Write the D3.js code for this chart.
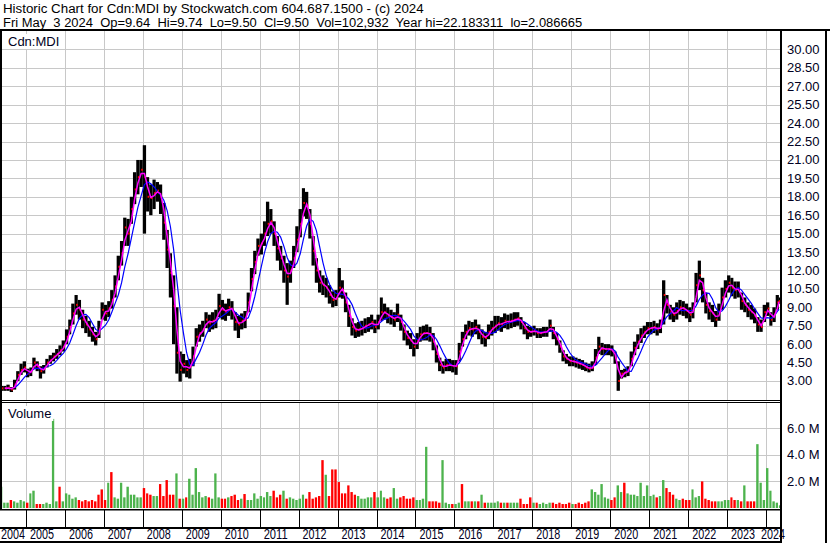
<!DOCTYPE html>
<html>
<head>
<meta charset="utf-8">
<script src="https://cdn.jsdelivr.net/npm/d3@7"></script>
<style>
body { margin:0; background:#fff; }
svg text { font-family:"Liberation Sans", Arial, sans-serif; }
</style>
</head>
<body>
<svg id="chart" width="830" height="543"></svg>
<script>
// monthly data, first month = May 2004
var firstYear = 2004, firstMonth = 4;
var lastDay = new Date(2024, 4, 4);

var closes = [
  2.4, 2.4, 2.45, 2.3, 2.7, 3.5, 3.9, 4.1, 3.6, 3.8,
  4.5, 4.2, 3.8, 4.0, 4.5, 4.7, 5.0, 5.2, 5.5, 5.8,
  6.6, 7.4, 8.5, 9.2, 8.8, 8.0, 7.6, 7.2, 6.8, 6.4,
  7.2, 8.8, 8.5, 8.9, 9.6, 10.7, 12.3, 13.4, 15.5, 15.0,
  17.0, 18.6, 19.6, 20.2, 19.6, 18.0, 17.9, 18.3, 18.5, 18.0,
  15.9, 13.7, 11.8, 9.1, 5.3, 3.9, 4.4, 3.9, 4.2, 5.0,
  6.6, 6.9, 7.2, 8.0, 7.7, 7.9, 8.0, 9.1, 8.8, 8.6,
  9.0, 8.8, 7.8, 7.6, 7.9, 8.0, 9.4, 11.3, 12.7, 14.0,
  14.2, 15.0, 15.8, 16.0, 15.0, 13.8, 13.0, 12.0, 11.5, 12.0,
  13.0, 14.5, 15.8, 17.5, 17.3, 15.8, 13.6, 12.0, 11.0, 10.8,
  10.6, 10.0, 9.6, 9.7, 10.6, 10.4, 9.4, 8.3, 7.4, 7.1,
  7.2, 7.3, 7.5, 7.6, 7.8, 7.4, 7.8, 8.6, 8.6, 8.3,
  8.2, 8.0, 8.4, 7.8, 7.0, 6.5, 6.3, 5.8, 6.3, 6.8,
  6.9, 6.9, 6.8, 6.2, 5.2, 4.3, 4.1, 4.3, 4.3, 4.2,
  4.2, 5.4, 6.4, 7.0, 7.3, 7.2, 7.4, 7.0, 6.6, 6.5,
  7.0, 7.3, 7.5, 7.7, 7.6, 7.9, 7.8, 7.9, 8.0, 8.1,
  7.8, 7.3, 7.0, 7.0, 7.1, 6.9, 6.9, 7.0, 7.0, 7.5,
  6.9, 6.4, 5.8, 5.0, 4.8, 4.6, 4.6, 4.5, 4.4, 4.3,
  4.1, 4.0, 4.1, 4.9, 5.8, 5.6, 5.6, 5.6, 5.5, 4.9,
  3.0, 3.6, 3.7, 3.8, 4.8, 5.7, 6.2, 6.7, 7.0, 7.3,
  7.3, 7.4, 7.2, 7.4, 10.0, 9.2, 8.6, 8.4, 8.7, 9.0,
  8.9, 8.7, 8.4, 8.8, 10.8, 11.6, 10.4, 9.2, 8.7, 8.5,
  8.0, 8.6, 9.8, 10.5, 11.0, 10.6, 10.4, 10.5, 9.5, 9.2,
  8.8, 8.6, 8.3, 7.6, 7.4, 8.6, 8.9, 8.0, 8.4, 9.4, 9.5
];

var highs = [
  2.6, 2.6, 2.7, 2.5, 3.1, 3.8, 4.4, 4.6, 4.0, 4.1,
  4.9, 4.6, 4.2, 4.3, 4.8, 5.1, 5.3, 5.6, 5.9, 6.3,
  7.2, 8.0, 9.3, 10.0, 9.6, 8.8, 8.3, 7.9, 7.4, 7.0,
  7.9, 9.4, 9.2, 9.5, 10.4, 11.6, 13.2, 14.4, 16.3, 16.2,
  18.0, 20.0, 21.0, 21.0, 22.2, 19.6, 19.0, 19.4, 19.2, 19.0,
  17.5, 15.3, 13.4, 11.6, 9.0, 5.4, 5.2, 4.7, 4.8, 5.8,
  7.3, 7.6, 7.9, 8.6, 8.4, 8.6, 8.8, 10.1, 9.6, 9.3,
  9.7, 9.5, 8.6, 8.3, 8.5, 8.7, 10.2, 12.2, 13.6, 14.6,
  15.0, 16.0, 17.6, 17.0, 16.0, 14.8, 14.0, 13.2, 12.6, 12.8,
  14.0, 15.6, 17.0, 18.7, 18.4, 17.0, 14.8, 13.0, 12.0, 11.6,
  11.4, 10.8, 10.3, 10.4, 12.2, 11.2, 10.2, 9.2, 8.1, 7.7,
  7.8, 7.9, 8.1, 8.2, 8.4, 8.0, 8.4, 9.8, 9.3, 9.0,
  8.8, 8.6, 9.3, 8.4, 7.6, 7.1, 6.9, 6.4, 6.9, 7.4,
  7.5, 7.6, 7.4, 6.9, 5.9, 4.9, 4.6, 4.8, 4.8, 4.7,
  4.7, 6.1, 7.0, 7.6, 7.9, 7.8, 8.0, 7.6, 7.2, 7.0,
  7.6, 7.9, 8.3, 8.3, 8.2, 8.5, 8.4, 8.5, 8.6, 8.6,
  8.2, 7.8, 7.5, 7.4, 7.5, 7.3, 7.3, 7.4, 7.4, 8.0,
  7.4, 6.9, 6.3, 5.5, 5.2, 5.0, 5.0, 4.9, 4.8, 4.7,
  4.5, 4.4, 4.6, 5.6, 6.6, 6.1, 6.0, 6.0, 5.9, 5.4,
  4.6, 3.9, 4.0, 4.2, 5.4, 6.2, 6.8, 7.3, 7.5, 7.8,
  7.8, 7.9, 7.7, 8.0, 11.2, 10.0, 9.2, 9.0, 9.4, 9.6,
  9.5, 9.3, 9.0, 9.4, 11.8, 12.8, 11.4, 10.2, 9.4, 9.2,
  8.7, 9.3, 10.6, 11.2, 11.6, 11.4, 11.1, 11.1, 10.2, 9.8,
  9.4, 9.2, 8.9, 8.2, 8.0, 9.2, 9.4, 8.6, 9.0, 10.0, 9.8
];

var lows = [
  2.2, 2.2, 2.2, 2.1, 2.3, 3.0, 3.5, 3.7, 3.3, 3.4,
  4.0, 3.8, 3.2, 3.6, 4.1, 4.4, 4.6, 4.8, 5.1, 5.4,
  6.0, 6.8, 7.6, 8.4, 8.0, 7.3, 6.9, 6.6, 6.2, 5.9,
  6.5, 8.0, 7.9, 8.2, 8.9, 9.8, 11.2, 12.4, 14.0, 14.0,
  15.8, 17.4, 18.2, 18.8, 15.0, 16.8, 16.5, 17.0, 17.6, 16.6,
  14.5, 12.2, 9.8, 6.0, 3.6, 2.95, 3.6, 3.3, 3.2, 4.2,
  5.8, 6.2, 6.6, 7.3, 7.0, 7.2, 7.3, 8.2, 8.0, 7.9,
  8.3, 8.0, 7.1, 6.5, 7.2, 7.3, 8.6, 10.3, 11.7, 13.2,
  13.3, 14.0, 14.8, 15.0, 14.0, 12.8, 12.0, 11.0, 9.2, 11.0,
  12.2, 13.5, 14.7, 16.4, 16.2, 14.6, 12.4, 11.0, 10.2, 10.0,
  9.8, 9.3, 9.0, 9.1, 9.8, 9.7, 8.6, 7.4, 6.7, 6.5,
  6.6, 6.7, 6.9, 7.0, 7.2, 6.9, 7.2, 7.9, 8.0, 7.7,
  7.6, 7.4, 7.8, 7.1, 6.3, 5.9, 5.6, 5.0, 5.6, 6.2,
  6.3, 6.3, 6.2, 5.5, 4.5, 3.8, 3.6, 3.8, 3.8, 3.7,
  3.5, 4.6, 5.8, 6.4, 6.7, 6.6, 6.8, 6.4, 6.0, 5.8,
  6.4, 6.7, 6.9, 7.1, 7.0, 7.3, 7.2, 7.3, 7.4, 7.5,
  7.2, 6.8, 6.4, 6.6, 6.7, 6.5, 6.5, 6.6, 6.6, 7.0,
  6.4, 5.9, 5.3, 4.6, 4.4, 4.2, 4.2, 4.1, 4.0, 3.9,
  3.8, 3.7, 3.8, 4.3, 5.2, 5.1, 5.1, 5.1, 5.0, 4.4,
  2.2, 3.2, 3.3, 3.4, 4.2, 5.1, 5.6, 6.1, 6.5, 6.8,
  6.8, 6.9, 6.7, 6.9, 7.6, 8.5, 8.0, 7.8, 8.0, 8.4,
  8.3, 8.1, 7.8, 8.1, 9.4, 10.4, 9.4, 8.5, 8.0, 7.8,
  7.4, 7.9, 8.8, 9.8, 10.2, 9.9, 9.7, 9.8, 8.8, 8.6,
  8.2, 8.0, 7.7, 7.0, 7.0, 7.8, 8.3, 7.5, 7.8, 8.8, 9.3
];

// volume in millions
var volumes = [
  1.6, 0.4, 0.4, 0.6, 0.5, 0.4, 0.6, 0.5, 0.4, 1.1,
  1.3, 0.3, 0.3, 0.3, 0.4, 0.3, 6.7, 0.5, 1.6, 0.5,
  1.1, 1.0, 0.7, 0.8, 0.6, 0.5, 0.6, 0.5, 0.6, 0.5,
  1.0, 1.4, 0.6, 1.9, 2.7, 0.8, 0.7, 1.9, 0.8, 1.6,
  1.0, 1.0, 0.8, 0.8, 1.5, 1.1, 1.0, 0.9, 0.9, 1.8,
  0.9, 2.1, 1.0, 1.0, 2.6, 0.7, 0.7, 0.8, 2.2, 1.0,
  3.0, 1.2, 0.8, 0.9, 0.8, 0.7, 2.6, 0.8, 0.7, 0.7,
  0.8, 0.9, 1.0, 0.6, 0.7, 1.05, 0.6, 0.6, 1.1, 0.7,
  0.9, 0.8, 1.2, 0.9, 1.3, 0.8, 1.0, 1.3, 0.7, 0.8,
  0.7, 0.6, 0.7, 1.0, 0.7, 1.2, 0.7, 0.8, 0.9, 3.6,
  2.5, 0.9, 2.9, 2.9, 1.95, 1.1, 1.1, 1.7, 1.2, 1.0,
  0.9, 0.7, 0.7, 0.8, 0.8, 1.2, 0.8, 1.3, 0.8, 0.7,
  0.8, 1.5, 0.7, 0.8, 0.9, 0.7, 0.7, 0.8, 0.6, 0.6,
  0.7, 4.6, 0.5, 0.5, 0.5, 0.4, 3.6, 0.4, 0.3, 0.3,
  0.3, 0.4, 1.8, 0.5, 0.5, 0.5, 0.5, 0.5, 1.0, 0.4,
  0.4, 0.4, 0.4, 0.5, 0.4, 0.4, 0.4, 0.4, 0.4, 0.4,
  0.7, 0.3, 0.3, 0.8, 0.4, 0.4, 0.3, 0.4, 0.3, 0.4,
  0.4, 0.3, 0.4, 0.3, 0.3, 0.4, 0.3, 0.3, 0.4, 0.3,
  0.4, 0.5, 1.4, 1.2, 1.0, 1.8, 0.8, 0.7, 0.6, 0.8,
  1.7, 1.2, 1.9, 1.1, 1.0, 1.0, 0.9, 1.9, 0.9, 1.7,
  0.9, 1.0, 0.8, 0.9, 2.1, 1.5, 1.2, 1.0, 0.7, 0.6,
  0.7, 0.6, 0.6, 1.4, 0.8, 0.9, 2.0, 0.7, 0.6, 0.5,
  0.5, 0.5, 0.5, 0.6, 0.6, 0.8, 0.6, 0.6, 0.5, 1.7,
  0.5, 0.5, 0.5, 4.8, 1.9, 0.6, 3.0, 1.3, 0.5, 0.4, 0.2
];
// g = up bar, r = down bar
var volDir = "gggrggggrg" + "grrgggggrg" + "ggggrrrrrr" + "rrrgrggggg" + "ggggrrrggr" +
             "rrrrgrgrgg" + "ggggrgggrr" + "grrrgrgggg" + "ggggrrrgrg" + "ggggrrrrrr" +
             "grrrrrrrrr" + "gggggrgggr" + "rggrrrrrgg" + "ggrrrrgggr" + "ggrggrgrgr" +
             "ggggrgrggg" + "rrrrgrgggg" + "rrrrrrgrrr" + "rrggggggrr" + "ggrggggggg" +
             "ggrggrrrgg" + "rrrgggrrrr" + "rggggrrgrg" + "rrrgggggggg";

var yearLabels = d3.range(2004, 2025);
var priceTicks = [3, 4.5, 6, 7.5, 9, 10.5, 12, 13.5, 15, 16.5, 18, 19.5, 21, 22.5, 24, 25.5, 27, 28.5, 30];
var volTicks = [2, 4, 6];
var headerLines = [
  "Historic Chart for Cdn:MDI by Stockwatch.com 604.687.1500 - (c) 2024",
  "Fri May  3 2024  Op=9.64  Hi=9.74  Lo=9.50  Cl=9.50  Vol=102,932  Year hi=22.183311  lo=2.086665"
];
var headerWidths = [421, 580];
var symbol = "Cdn:MDI";

var svg = d3.select("#chart");
var axisRight = 781;
var priceTop = 31, priceBottom = 400;
var volTop = 402, volBottom = 508;
var textColor = "#000022";

var x = d3.scaleTime()
  .domain([new Date(2005, 0, 1), new Date(2024, 0, 1)])
  .range([26, 766]);
var y = d3.scaleLinear().domain([1.5, 31.5]).range([399.4, 31]);
var yv = d3.scaleLinear().domain([0, 8]).range([volBottom, 401.6]);

var months = closes.map(function (c, i) {
  var start = new Date(firstYear, firstMonth + i, 1);
  var end = i === closes.length - 1 ? lastDay : new Date(firstYear, firstMonth + i + 1, 1);
  return {i: i, x0: x(start), x1: x(end), close: c, high: highs[i], low: lows[i],
          vol: volumes[i], up: volDir.charAt(i) === "g"};
});

function sma(n) {
  return months.map(function (d, i) {
    if (i < n - 1) return null;
    var s = 0;
    for (var k = i - n + 1; k <= i; k++) s += closes[k];
    return {x: (d.x0 + d.x1) / 2, v: s / n};
  });
}

var defs = svg.append("defs");
defs.append("clipPath").attr("id", "clipPrice")
  .append("rect").attr("x", 2).attr("y", priceTop).attr("width", axisRight - 2).attr("height", priceBottom - priceTop);
defs.append("clipPath").attr("id", "clipVol")
  .append("rect").attr("x", 2).attr("y", volTop).attr("width", axisRight - 2).attr("height", volBottom - volTop);

// header - stretch each line to the width it has in the original
headerLines.forEach(function (txt, i) {
  var t = svg.append("text")
    .attr("x", 0).attr("y", 0)
    .attr("font-size", 13.5).attr("fill", "#000")
    .style("white-space", "pre")
    .text(txt);
  var w = t.node().getComputedTextLength();
  t.attr("transform", "translate(3," + (13 + i * 14) + ") scale(" + (headerWidths[i] / w) + ",1)");
});

// grid
var grid = svg.append("g").attr("stroke", "#c8c8c8").attr("stroke-width", 1).attr("shape-rendering", "crispEdges");
var yearTicks = yearLabels.slice(1).map(function (yr) { return new Date(yr, 0, 1); });
yearTicks.forEach(function (d) {
  var xx = Math.round(x(d)) + 0.5;
  grid.append("line").attr("x1", xx).attr("x2", xx).attr("y1", priceTop).attr("y2", priceBottom);
  grid.append("line").attr("x1", xx).attr("x2", xx).attr("y1", volTop).attr("y2", volBottom);
});
priceTicks.forEach(function (v) {
  var yy = Math.round(y(v)) + 0.5;
  grid.append("line").attr("x1", 2).attr("x2", axisRight).attr("y1", yy).attr("y2", yy);
});
volTicks.forEach(function (v) {
  var yy = Math.round(yv(v)) + 0.5;
  grid.append("line").attr("x1", 2).attr("x2", axisRight).attr("y1", yy).attr("y2", yy);
});

// price bars
var pg = svg.append("g").attr("clip-path", "url(#clipPrice)");
pg.selectAll("rect.bar").data(months).enter().append("rect")
  .attr("class", "bar")
  .attr("x", function (d) { return d.x0; })
  .attr("width", function (d) { return Math.max(1.5, d.x1 - d.x0); })
  .attr("y", function (d) { return y(d.high); })
  .attr("height", function (d) { return y(d.low) - y(d.high); })
  .attr("fill", "#000");
pg.selectAll("rect.cl").data(months).enter().append("rect")
  .attr("class", "cl")
  .attr("x", function (d) { return Math.max(d.x0, d.x1 - 1.6); })
  .attr("width", 1.6)
  .attr("y", function (d) { return y(d.close) - 1; })
  .attr("height", 2)
  .attr("fill", "#ff0000");

var line = d3.line()
  .defined(function (d) { return d !== null; })
  .x(function (d) { return d.x; })
  .y(function (d) { return y(d.v); });
pg.append("path").datum(sma(5)).attr("d", line)
  .attr("fill", "none").attr("stroke", "#0000ff").attr("stroke-width", 1.2);
pg.append("path").datum(sma(2)).attr("d", line)
  .attr("fill", "none").attr("stroke", "#ff00ff").attr("stroke-width", 1.5);

// volume bars
var vg = svg.append("g").attr("clip-path", "url(#clipVol)");
vg.selectAll("rect").data(months).enter().append("rect")
  .attr("x", function (d) { return d.x0; })
  .attr("width", function (d) { return Math.max(1.2, d.x1 - d.x0 - 0.9); })
  .attr("y", function (d) { return yv(d.vol); })
  .attr("height", function (d) { return volBottom - yv(d.vol); })
  .attr("fill", function (d) { return d.up ? "#4db34d" : "#ff0000"; });

// panel labels with white background
[[symbol, 46], ["Volume", 418]].forEach(function (p) {
  var t = svg.append("text").attr("x", 8).attr("y", p[1]).attr("font-size", 13)
    .attr("fill", textColor).text(p[0]);
  var bb = t.node().getBBox();
  svg.insert("rect", "text:last-of-type")
    .attr("x", bb.x - 3).attr("y", bb.y).attr("width", bb.width + 5).attr("height", bb.height)
    .attr("fill", "#fff");
  t.raise();
});

// frame
var frame = svg.append("g").attr("fill", "#000");
frame.append("rect").attr("x", 0).attr("y", 29).attr("width", 830).attr("height", 2);
frame.append("rect").attr("x", 0).attr("y", 30).attr("width", 2).attr("height", 480);
frame.append("rect").attr("x", axisRight - 1).attr("y", 30).attr("width", 2).attr("height", 513);
frame.append("rect").attr("x", 825).attr("y", 30).attr("width", 2).attr("height", 513);
frame.append("rect").attr("x", 0).attr("y", 400).attr("width", axisRight).attr("height", 1);
frame.append("rect").attr("x", 0).attr("y", 402).attr("width", axisRight).attr("height", 1);
frame.append("rect").attr("x", 0).attr("y", 509).attr("width", axisRight).attr("height", 1.5);
frame.append("rect").attr("x", 0).attr("y", 527).attr("width", axisRight).attr("height", 2);
frame.append("rect").attr("x", 0).attr("y", 541).attr("width", axisRight).attr("height", 2);
yearTicks.forEach(function (d) {
  frame.append("rect").attr("x", Math.round(x(d))).attr("y", 510).attr("width", 1).attr("height", 17);
});

// right axis labels
svg.selectAll("text.pl").data(priceTicks).enter().append("text")
  .attr("class", "pl")
  .attr("x", 787).attr("y", function (d) { return y(d) + 4.5; })
  .attr("font-size", 13).attr("fill", textColor)
  .text(function (d) { return d3.format(".2f")(d); });
svg.selectAll("text.vl").data(volTicks).enter().append("text")
  .attr("class", "vl")
  .attr("x", 787).attr("y", function (d) { return yv(d) + 4.5; })
  .attr("font-size", 13).attr("fill", textColor)
  .text(function (d) { return d3.format(".1f")(d) + " M"; });

// year labels
svg.selectAll("text.yr").data(yearLabels).enter().append("text")
  .attr("class", "yr")
  .attr("x", function (d) {
    if (d === 2004) return 1;
    if (d === 2024) return 761;
    return x(new Date(d, 0, 1)) + 4;
  })
  .attr("y", 539)
  .attr("font-size", 14).attr("fill", textColor)
  .attr("textLength", 24).attr("lengthAdjust", "spacingAndGlyphs")
  .text(function (d) { return d; });
</script>
</body>
</html>
